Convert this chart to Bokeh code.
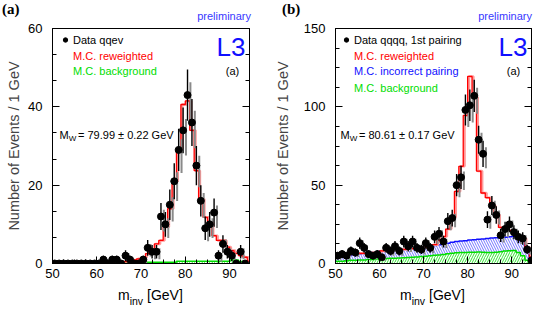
import numpy as np
from bokeh.plotting import figure
from bokeh.layouts import row, column
from bokeh.models import (Range1d, LinearAxis, SingleIntervalTicker, Label, Legend,
                          LegendItem, CustomJSTickFormatter, Div)
from bokeh.embed import file_html
from bokeh.resources import INLINE

# ---------------- data ----------------
bin_edges = np.arange(50, 96)            # 1 GeV bins from 50 to 95 GeV
mass_a = np.arange(50.5, 94.0)           # bin centres, panel (a)
mass_b = np.arange(50.5, 95.0)           # bin centres, panel (b)

# panel (a): qqev
data_a = [0, 0, 0, 0, 0, 0, 0, 0, 0, 0, 0,
          1, 0, 1, 1, 0, 2, 1, 0, 0, 1, 4, 3, 3, 12, 10, 15, 21, 29, 34, 43,
          36, 25, 16, 9, 10, 13, 2, 5, 3, 2, 0, 3, 0]
mc_reweighted_a = [0.2, 0.2, 0.2, 0.2, 0.2, 0.2, 0.2, 0.2, 0.2, 0.2, 0.2, 0.2, 0.2, 0.2, 0.2,
                   0.4, 0.5, 0.6, 0.9, 1.2, 1.6, 2.5, 3.3, 5.0, 5.9, 9.3, 14.0, 21.0, 29.3,
                   40.6, 41.5, 34.0, 23.7, 16.5, 11.8, 10.5, 7.1, 5.9, 5.9, 4.2, 3.3, 2.6,
                   2.0, 1.6, 0.6]
mc_background_a = [0.1, 0.1, 0.1, 0.1, 0.1, 0.1, 0.1, 0.1, 0.1, 0.1,
                   0.2, 0.2, 0.2, 0.2, 0.2,
                   0.35, 0.35, 0.35, 0.35, 0.35, 0.35, 0.35, 0.35, 0.35, 0.35, 0.35, 0.35, 0.35,
                   0.6, 0.6, 0.6, 0.6, 0.6, 0.6, 0.6, 0.6, 0.6, 0.6, 0.6, 0.6,
                   0.9, 0.9, 0.5, 0.1, 0.0]

# panel (b): qqqq, 1st pairing
data_b = [5, 6, 5, 8, 7, 13, 10, 6, 5, 6, 4, 10, 8, 11, 8, 14, 11, 14, 10, 9,
          13, 10, 17, 19, 14, 27, 29, 50, 55, 98, 101, 107, 79, 70, 28, 37, 31,
          18, 22, 25, 20, 17, 16, 9, 2]
mc_reweighted_b = [4.5, 5.0, 5.5, 6.0, 6.5, 6.5, 6.5, 6.5, 7.0, 7.0, 8.0, 8.5, 8.5, 9.0,
                   9.0, 9.0, 9.5, 9.5, 10.0, 10.0, 10.5, 11.5, 12.0, 14.7, 17.2, 22.0,
                   29.6, 46.0, 62.0, 94.5, 119.4, 106.0, 59.0, 45.0, 42.0, 37.0, 31.0,
                   23.0, 21.0, 21.0, 20.0, 18.0, 16.0, 10.0, 4.0]
mc_incorrect_top_b = [4.5, 5.0, 5.0, 5.5, 6.0, 6.0, 6.5, 6.5, 7.0, 7.0, 8.0, 8.0, 8.3, 8.5,
                      8.8, 9.0, 9.3, 9.5, 10.0, 10.0, 10.5, 11.0, 11.5, 12.0, 12.5, 13.0,
                      13.5, 14.0, 14.3, 14.6, 15.0, 15.2, 15.5, 15.7, 16.0, 16.2, 16.4,
                      16.6, 16.8, 17.0, 17.4, 17.0, 14.0, 8.0, 3.0]
mc_background_b = [1.5, 1.5, 1.8, 2.0, 2.0, 2.2, 2.3, 2.5, 2.6, 2.8, 3.0, 3.2, 3.3, 3.4,
                   3.5, 3.7, 3.8, 4.0, 4.2, 4.4, 4.6, 5.0, 5.2, 5.5, 5.8, 6.2, 6.5, 6.8,
                   7.0, 7.0, 7.2, 7.2, 7.3, 7.2, 7.0, 7.0, 7.2, 7.5, 8.0, 8.2, 8.3, 7.0,
                   5.0, 2.0, 0.5]

FONT = "Liberation Sans"
RED, BLUE, GREEN = "#ff0000", "#1010ff", "#00dd00"
FH = 235


def put(p, fx, fy, text, size, color="black", align="left", baseline="middle",
        font=FONT, style="normal"):
    # fx, fy: pixel offsets from the frame's top-left corner (fy downward), inside the frame
    p.add_layout(Label(x=fx, y=FH - fy, x_units="screen", y_units="screen",
                       text=text, text_font_size=f"{size}px", text_color=color,
                       text_align=align, text_baseline=baseline, text_font=font,
                       text_font_style=style))


def add_legend(p, renderer, label, color, fx, fy):
    leg = Legend(items=[LegendItem(label=label, renderers=[renderer])],
                 location=(fx, FH - fy - 5.5), padding=0, margin=0, spacing=0,
                 glyph_width=12, glyph_height=11, label_standoff=2, label_height=11,
                 label_text_font=FONT, label_text_font_size="11px",
                 label_text_color=color, label_text_baseline="middle",
                 background_fill_alpha=0, border_line_alpha=0)
    p.add_layout(leg)


def make_panel(width, left, right, ymax, yint, yminor, label_standoff_y):
    p = figure(width=width, height=263, output_backend="svg", toolbar_location=None,
               x_range=Range1d(50, 94.5), y_range=Range1d(0, ymax),
               min_border_left=left, min_border_right=right, min_border_top=6,
               min_border_bottom=22, background_fill_color="white",
               border_fill_color="white", outline_line_color="black")
    p.grid.visible = False
    p.xaxis.ticker = SingleIntervalTicker(interval=10, num_minor_ticks=4)
    p.yaxis.ticker = SingleIntervalTicker(interval=yint, num_minor_ticks=yminor)
    for ax in (p.xaxis[0], p.yaxis[0]):
        ax.major_tick_in = 7
        ax.major_tick_out = 0
        ax.minor_tick_in = 4
        ax.minor_tick_out = 0
        ax.axis_line_color = "black"
        ax.major_label_text_font = FONT
        ax.major_label_text_font_size = "13px"
        ax.major_label_text_color = "black"
    p.xaxis.major_label_standoff = 5
    p.yaxis.major_label_standoff = 10
    p.yaxis.axis_label = "Number of Events / 1 GeV"
    p.yaxis.axis_label_text_font = FONT
    p.yaxis.axis_label_text_font_size = "14.5px"
    p.yaxis.axis_label_text_font_style = "normal"
    p.yaxis.axis_label_standoff = label_standoff_y
    rax = LinearAxis(ticker=SingleIntervalTicker(interval=yint, num_minor_ticks=yminor),
                     major_tick_in=7, major_tick_out=0, minor_tick_in=4, minor_tick_out=0,
                     major_label_standoff=0,
                     formatter=CustomJSTickFormatter(code="return ''"))
    p.add_layout(rax, "right")
    return p


def draw_hist(p, vals, color, width, shadow=None):
    y = list(vals) + [vals[-1]]
    if shadow:
        p.step(x=bin_edges + 0.3, y=y, mode="after", line_color=shadow, line_width=2.5)
    p.step(x=bin_edges, y=y, mode="after", line_color=color, line_width=width)


def draw_data(p, x, counts):
    c = np.array(counts, dtype=float)
    err = np.sqrt(c)
    p.segment(x0=x + 0.65, y0=c - 1.1 * err, x1=x + 0.65, y1=c + 0.5 * err,
              line_color="#8a8a8a", line_width=2)
    p.segment(x0=x, y0=c - err, x1=x, y1=c + err, line_color="black", line_width=1.4)
    return p.scatter(x=x, y=c, size=7, color="black")


lefts, rights = bin_edges[:-1], bin_edges[1:]

# ---------------- panel (a) ----------------
pa = make_panel(270, 52, 21, 60, 20, 3, 3)
pa.quad(left=lefts, right=rights, bottom=0, top=mc_background_a, fill_alpha=0,
        line_color=None, hatch_pattern="/", hatch_color=GREEN, hatch_scale=5, hatch_weight=0.8)
draw_hist(pa, mc_background_a, GREEN, 1.5)
draw_hist(pa, mc_reweighted_a, RED, 1.3, shadow="#ff9a9a")
ra = draw_data(pa, mass_a, data_a)
sw_red_a = pa.quad(left=[], right=[], bottom=[], top=[], fill_color="white",
                   line_color=RED, line_width=1.5)
sw_green_a = pa.quad(left=[], right=[], bottom=[], top=[], fill_color="white",
                     line_color=GREEN, line_width=1, hatch_pattern="|", hatch_color=GREEN,
                     hatch_scale=3, hatch_weight=0.8)
add_legend(pa, ra, "Data qqev", "black", 7, 12)
add_legend(pa, sw_red_a, "M.C. reweighted", RED, 7, 28)
add_legend(pa, sw_green_a, "M.C. background", GREEN, 7, 43.7)
put(pa, 193, 18, "L3", 26, color=BLUE, align="right")
put(pa, 180, 42, "(a)", 11, align="center")
put(pa, 7, 106, "M", 11)
put(pa, 16.2, 109.5, "W", 8)
put(pa, 25.5, 106, "= 79.99 \u00b1 0.22 GeV", 11)

# ---------------- panel (b) ----------------
pb = make_panel(272, 65, 11, 150, 50, 4, 10)
pb.quad(left=lefts, right=rights, bottom=mc_background_b, top=mc_incorrect_top_b,
        fill_alpha=0, line_color=None, hatch_pattern="\\", hatch_color="#5050ff",
        hatch_scale=5, hatch_weight=0.8)
pb.quad(left=lefts, right=rights, bottom=0, top=mc_background_b, fill_alpha=0,
        line_color=None, hatch_pattern="/", hatch_color=GREEN, hatch_scale=5, hatch_weight=0.8)
draw_hist(pb, mc_background_b, GREEN, 1.5)
draw_hist(pb, mc_incorrect_top_b, BLUE, 1.5)
draw_hist(pb, mc_reweighted_b, RED, 1.3, shadow="#ff9a9a")
rb = draw_data(pb, mass_b, data_b)
sw_red_b = pb.quad(left=[], right=[], bottom=[], top=[], fill_color="white",
                   line_color=RED, line_width=1.5)
sw_blue_b = pb.quad(left=[], right=[], bottom=[], top=[], fill_color="white",
                    line_color=BLUE, line_width=1, hatch_pattern="\\", hatch_color=BLUE,
                    hatch_scale=3, hatch_weight=0.8)
sw_green_b = pb.quad(left=[], right=[], bottom=[], top=[], fill_color="white",
                     line_color=GREEN, line_width=1, hatch_pattern="|", hatch_color=GREEN,
                     hatch_scale=3, hatch_weight=0.8)
add_legend(pb, rb, "Data qqqq, 1st pairing", "black", 5, 12)
add_legend(pb, sw_red_b, "M.C. reweighted", RED, 5, 28)
add_legend(pb, sw_blue_b, "M.C. incorrect pairing", BLUE, 5, 43.7)
add_legend(pb, sw_green_b, "M.C. background", GREEN, 5, 60.3)
put(pb, 192, 18, "L3", 26, color=BLUE, align="right")
put(pb, 178, 42, "(a)", 11, align="center")
put(pb, 5, 106, "M", 11)
put(pb, 14.2, 109.5, "W", 8)
put(pb, 23.5, 106, "= 80.61 \u00b1 0.17 GeV", 11)

# ---------------- texts outside the frames ----------------
sans = "font-family:'Liberation Sans',sans-serif;"
serif_b = "font-family:'Liberation Serif',serif;font-weight:bold;font-size:15px;line-height:15px;"
prelim = sans + "font-size:11px;line-height:13px;color:#3838ff;"
top_html = (
    '<div style="position:relative;width:545px;height:22px;">'
    f'<span style="position:absolute;left:2px;top:2px;{serif_b}">(a)</span>'
    f'<span style="position:absolute;left:282px;top:2px;{serif_b}">(b)</span>'
    f'<span style="position:absolute;right:294px;top:10px;{prelim}">preliminary</span>'
    f'<span style="position:absolute;right:13px;top:10px;{prelim}">preliminary</span>'
    '</div>'
)
xlab = sans + "font-size:14px;line-height:16px;color:black;white-space:nowrap;"
sub = "font-size:10.5px;vertical-align:-5px;line-height:0;"
bottom_html = (
    '<div style="position:relative;width:545px;height:24px;">'
    f'<span style="position:absolute;left:118px;top:2px;{xlab}">m<span style="{sub}">inv</span> [GeV]</span>'
    f'<span style="position:absolute;left:400px;top:2px;{xlab}">m<span style="{sub}">inv</span> [GeV]</span>'
    '</div>'
)
top_div = Div(text=top_html, width=545, height=22, margin=(0, 0, 0, 0))
bottom_div = Div(text=bottom_html, width=545, height=24, margin=(0, 0, 0, 0))

layout = column(top_div, row(pa, pb, spacing=0), bottom_div, spacing=0)
open("out.html", "w").write(file_html(layout, INLINE))
